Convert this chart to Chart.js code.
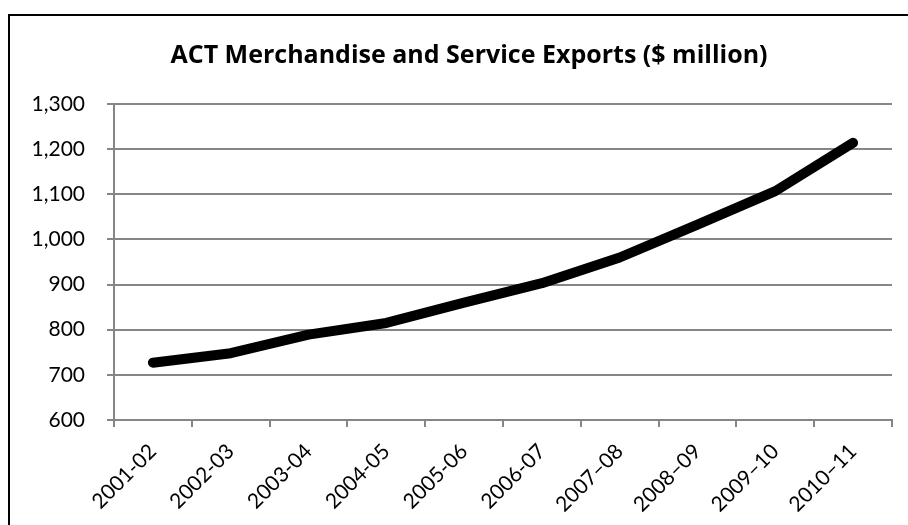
<!DOCTYPE html>
<html>
<head>
<meta charset="utf-8">
<script src="https://cdn.jsdelivr.net/npm/chart.js@4/dist/chart.umd.min.js"></script>
<style>
  html, body { margin: 0; padding: 0; background: #fff; overflow: hidden; }
  #wrap { position: absolute; left: 0; top: 0; width: 908px; height: 525px; }
</style>
</head>
<body>
<div id="wrap"><canvas id="c"></canvas></div>
<script>
const titleText = 'ACT Merchandise and Service Exports ($ million)';
const categories = ['2001-02','2002-03','2003-04','2004-05','2005-06','2006-07','2007\u201308','2008\u201309','2009\u201310','2010\u201311'];
const exportsValues = [727, 748, 789, 815, 860, 903, 960, 1033, 1107, 1214];
const yMin = 600, yMax = 1300, yStep = 100;

const frameAndTitle = {
  id: 'frameAndTitle',
  beforeDraw(chart) {
    const ctx = chart.ctx;
    ctx.save();
    ctx.fillStyle = '#fff';
    ctx.fillRect(0, 0, chart.width, chart.height);
    ctx.strokeStyle = '#000';
    ctx.lineWidth = 2;
    ctx.strokeRect(9, 15, 1000, 1000);
    ctx.restore();
  },
  afterDraw(chart) {
    const ctx = chart.ctx;
    ctx.save();
    ctx.fillStyle = '#000';
    ctx.font = 'bold 25px "Open Sans"';
    ctx.textAlign = 'center';
    ctx.textBaseline = 'alphabetic';
    ctx.fillText(titleText, 469, 63);
    ctx.restore();
  }
};

new Chart(document.getElementById('c'), {
  type: 'line',
  data: {
    labels: categories,
    datasets: [{
      data: exportsValues,
      borderColor: '#000',
      borderWidth: 10,
      borderCapStyle: 'round',
      borderJoinStyle: 'round',
      pointRadius: 0,
      tension: 0,
      fill: false
    }]
  },
  options: {
    responsive: true,
    maintainAspectRatio: false,
    animation: false,
    layout: { padding: { left: 0, right: 16, top: 104, bottom: 0 } },
    plugins: { legend: { display: false }, title: { display: false }, tooltip: { enabled: false } },
    scales: {
      x: {
        offset: true,
        grid: { offset: true, drawOnChartArea: false, drawTicks: true, tickLength: 7, color: '#868686', lineWidth: 2 },
        border: { display: true, color: '#868686', width: 2 },
        ticks: { minRotation: 45, maxRotation: 45, autoSkip: false, padding: 12, color: '#000', font: { family: 'Lato', size: 21 } },
        afterFit(scale) { scale.height = 105; }
      },
      y: {
        min: yMin, max: yMax,
        grid: { color: '#868686', lineWidth: 2, tickLength: 7, drawTicks: true },
        border: { display: true, color: '#868686', width: 2 },
        ticks: { stepSize: yStep, padding: 22, color: '#000', font: { family: 'Lato', size: 21 },
                 callback: v => v.toLocaleString('en-US') },
        afterFit(scale) { scale.width = 114; }
      }
    }
  },
  plugins: [frameAndTitle]
});
</script>
</body>
</html>
